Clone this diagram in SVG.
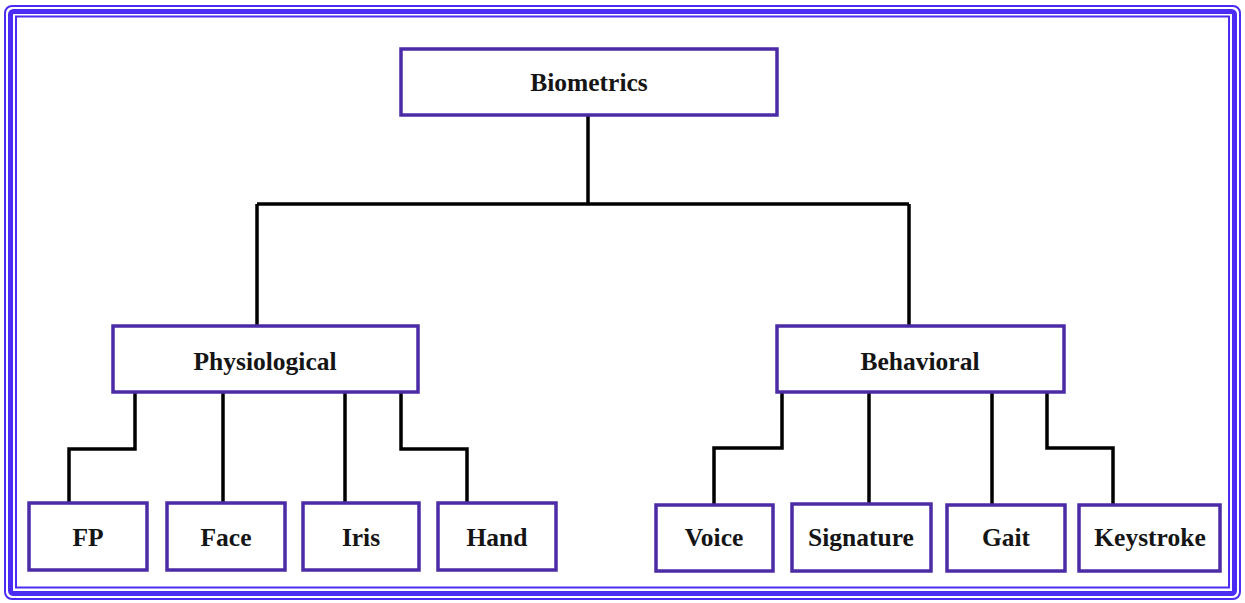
<svg xmlns="http://www.w3.org/2000/svg" width="1245" height="603" viewBox="0 0 1245 603">
  <style>
    .frame { fill: none; stroke: #4b2cf2; }
    .node rect { fill: #ffffff; stroke: #4c2ba6; stroke-width: 3.5; }
    .node text { font-family: "Liberation Serif", "Times New Roman", serif; font-weight: bold; font-size: 25.5px; fill: #151515; text-anchor: middle; }
    .links path { fill: none; stroke: #000000; stroke-width: 3.5; stroke-linejoin: miter; }
  </style>

  <rect width="1245" height="603" fill="#ffffff"/>

  <!-- triple-line outer frame -->
  <g id="frame">
    <rect class="frame" x="5" y="6" width="1235" height="593" rx="7" stroke-width="2"/>
    <rect class="frame" x="10.5" y="11.5" width="1224" height="582" rx="3" stroke-width="5"/>
    <rect class="frame" x="16" y="16.5" width="1213" height="571" stroke-width="2"/>
  </g>

  <!-- tree connectors -->
  <g class="links" id="connectors">
    <path d="M588,116 V204 M257,204 H909 M257,204 V326 M909,204 V326"/>
    <path d="M135,392 V449 H69 V503"/>
    <path d="M223,392 V503"/>
    <path d="M345,392 V503"/>
    <path d="M401,392 V449 H467 V503"/>
    <path d="M782,392 V448 H714 V505"/>
    <path d="M869,392 V505"/>
    <path d="M992,392 V505"/>
    <path d="M1047,392 V448 H1113 V505"/>
  </g>

  <g class="node" id="biometrics">
    <rect x="401" y="49" width="376" height="66"/>
    <text x="589" y="91">Biometrics</text>
  </g>
  <g class="node" id="physiological">
    <rect x="113" y="326" width="305" height="66"/>
    <text x="265" y="370">Physiological</text>
  </g>
  <g class="node" id="behavioral">
    <rect x="777" y="326" width="287" height="66"/>
    <text x="920" y="370">Behavioral</text>
  </g>

  <g class="node" id="fp">
    <rect x="29" y="503" width="118" height="67"/>
    <text x="88" y="546">FP</text>
  </g>
  <g class="node" id="face">
    <rect x="167" y="503" width="118" height="67"/>
    <text x="226" y="546">Face</text>
  </g>
  <g class="node" id="iris">
    <rect x="303" y="503" width="116" height="67"/>
    <text x="361" y="546">Iris</text>
  </g>
  <g class="node" id="hand">
    <rect x="438" y="503" width="118" height="67"/>
    <text x="497" y="546">Hand</text>
  </g>

  <g class="node" id="voice">
    <rect x="656" y="505" width="117" height="66"/>
    <text x="714" y="546">Voice</text>
  </g>
  <g class="node" id="signature">
    <rect x="792" y="504" width="139" height="67"/>
    <text x="861" y="546">Signature</text>
  </g>
  <g class="node" id="gait">
    <rect x="947" y="505" width="118" height="66"/>
    <text x="1006" y="546">Gait</text>
  </g>
  <g class="node" id="keystroke">
    <rect x="1079" y="505" width="141" height="66"/>
    <text x="1150" y="546">Keystroke</text>
  </g>
</svg>
